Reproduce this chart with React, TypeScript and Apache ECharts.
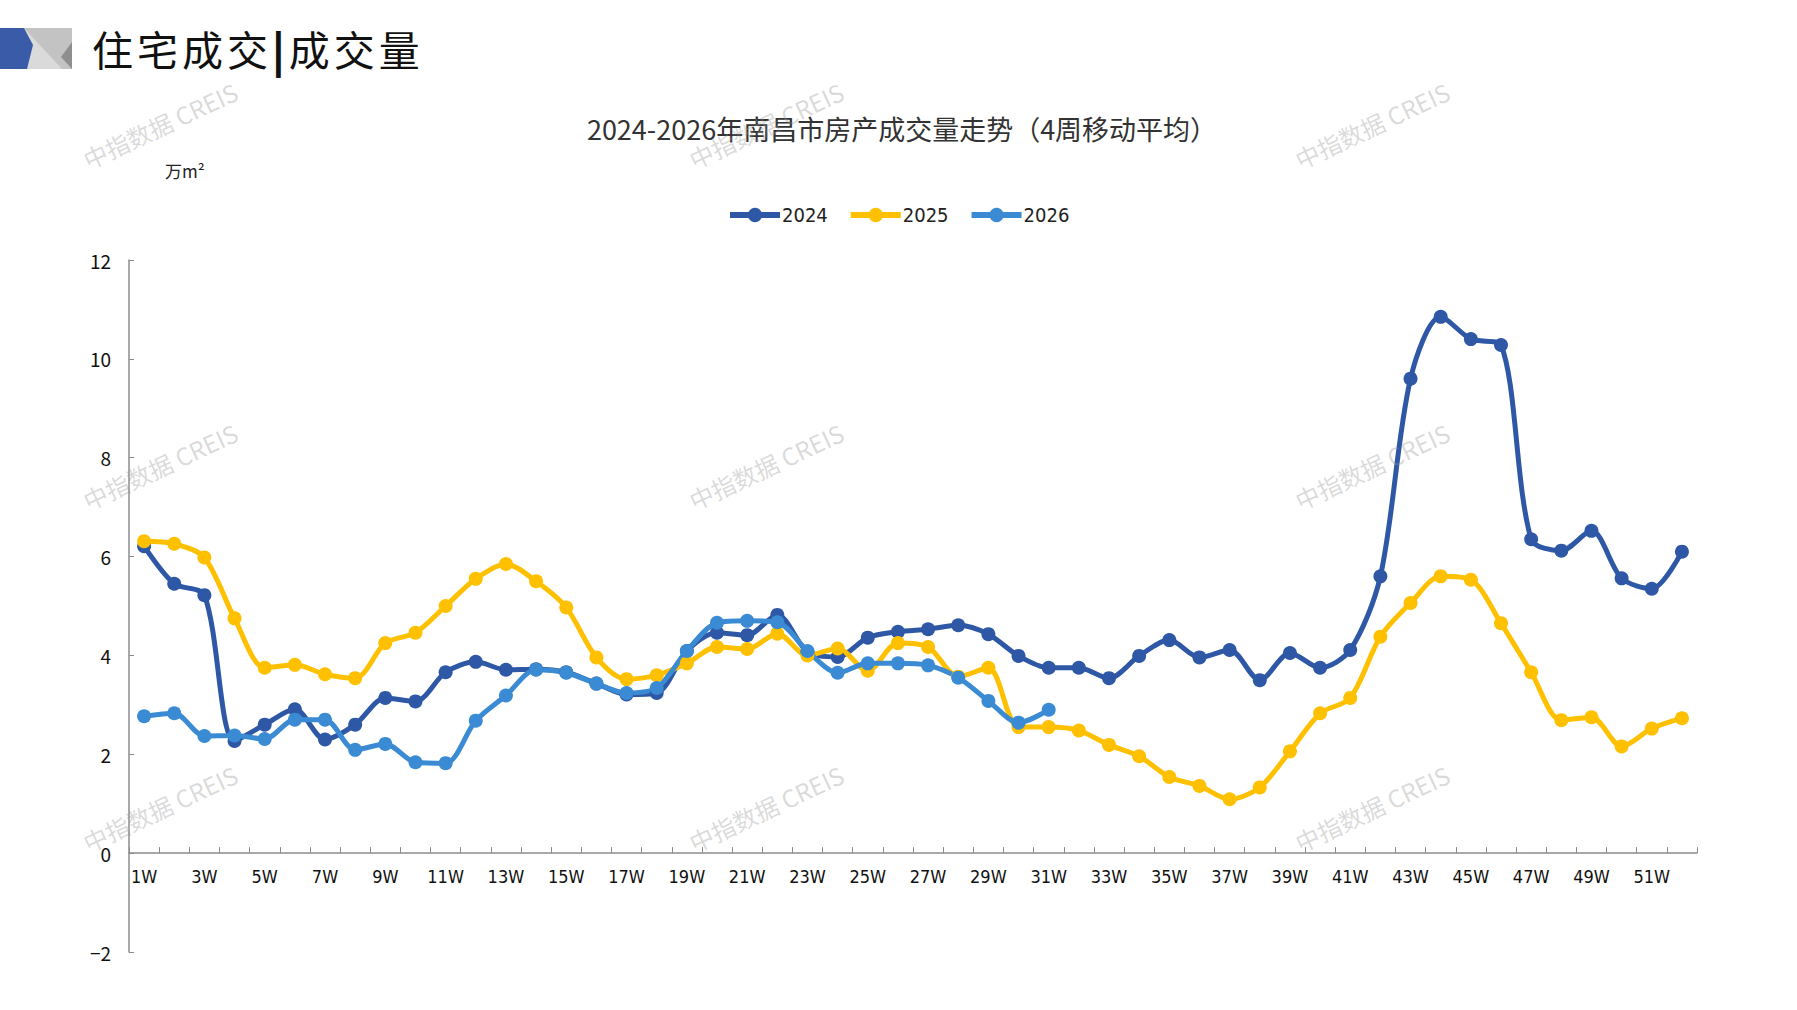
import React, { useEffect, useRef } from 'react';
import * as echarts from 'echarts';

const weeks: string[] = Array.from({ length: 52 }, (_, i) => `${i + 1}W`);

const y2024: number[] = [
  6.21, 5.45, 5.22, 2.27, 2.6, 2.91, 2.3, 2.6, 3.14, 3.07,
  3.66, 3.87, 3.71, 3.72, 3.66, 3.43, 3.21, 3.24, 4.09, 4.46,
  4.41, 4.82, 4.07, 3.97, 4.36, 4.48, 4.53, 4.61, 4.43, 3.99,
  3.75, 3.75, 3.54, 3.99, 4.31, 3.96, 4.11, 3.5, 4.05, 3.75,
  4.11, 5.6, 9.6, 10.85, 10.4, 10.28, 6.35, 6.12, 6.52, 5.56,
  5.35, 6.1,
];

const y2025: number[] = [
  6.31, 6.26, 5.98, 4.75, 3.75, 3.81, 3.62, 3.54, 4.25, 4.46,
  5.0, 5.55, 5.85, 5.5, 4.97, 3.96, 3.52, 3.6, 3.84, 4.17,
  4.13, 4.44, 4.0, 4.14, 3.69, 4.25, 4.17, 3.57, 3.75, 2.55,
  2.55, 2.48, 2.19, 1.96, 1.54, 1.36, 1.09, 1.33, 2.06, 2.83,
  3.14, 4.38, 5.06, 5.6, 5.53, 4.65, 3.66, 2.69, 2.75, 2.16,
  2.52, 2.73,
];

const y2026: number[] = [
  2.77, 2.83, 2.37, 2.38, 2.31, 2.7, 2.7, 2.09, 2.21, 1.84,
  1.82, 2.68, 3.19, 3.71, 3.65, 3.43, 3.24, 3.34, 4.09, 4.66,
  4.7, 4.67, 4.09, 3.65, 3.84, 3.84, 3.8, 3.55, 3.08, 2.64,
  2.9,
];

const yTicks = { min: -2, max: 12, interval: 2 };

const SANS = '"Noto Sans CJK SC", "Noto Sans", sans-serif';
const NARROW = '"Liberation Sans Narrow", "DejaVu Sans Condensed", "Noto Sans", sans-serif';

const WM_TEXT = '中指数据 CREIS';
const wmXs = [160, 766, 1372];
const wmYs = [125, 466, 808];

const GRID = { left: 129, right: 100, top: 260, bottom: 58 };

export default function App() {
  const elRef = useRef<HTMLDivElement | null>(null);

  useEffect(() => {
    if (!elRef.current) return;
    const chart = echarts.init(elRef.current, undefined, { renderer: 'svg' });

    // x axis sits on the zero line: lift it by the -2..0 span
    const plotH = 1010 - GRID.top - GRID.bottom;
    const zeroOffset = (plotH * (0 - yTicks.min)) / (yTicks.max - yTicks.min);

    const watermarks: any[] = [];
    for (const wy of wmYs) {
      for (const wx of wmXs) {
        watermarks.push({
          type: 'text',
          x: wx,
          y: wy,
          rotation: (25 * Math.PI) / 180,
          z: 100,
          silent: true,
          style: {
            text: WM_TEXT,
            align: 'center',
            verticalAlign: 'middle',
            fill: 'rgba(150,150,150,0.35)',
            font: `24px ${SANS}`,
          },
        });
      }
    }

    const mkSeries = (name: string, data: number[], color: string) => ({
      name,
      type: 'line',
      data,
      smooth: 0.3,
      symbol: 'circle',
      symbolSize: 14,
      lineStyle: { width: 5, color },
      itemStyle: { color },
      emphasis: { disabled: true },
    });

    const opt: echarts.EChartsOption = {
      animation: false,
      backgroundColor: '#fff',
      grid: GRID,
      legend: {
        left: 722,
        top: 200,
        itemWidth: 50,
        itemHeight: 18,
        itemGap: 20,
        lineStyle: { width: 6 },
        textStyle: { fontSize: 20, color: '#222', fontFamily: NARROW, padding: [0, 0, 0, -3] },
        data: ['2024', '2025', '2026'],
      },
      xAxis: {
        type: 'category',
        data: weeks,
        boundaryGap: true,
        offset: -zeroOffset,
        axisLine: { onZero: false, lineStyle: { color: '#8c8c8c', width: 1.5 } },
        axisTick: { show: true, inside: true, length: 6, interval: 0, lineStyle: { color: '#8c8c8c' } },
        axisLabel: { interval: 1, color: '#111', fontSize: 18, fontFamily: NARROW, margin: 14 },
        splitLine: { show: false },
      },
      yAxis: {
        type: 'value',
        min: yTicks.min,
        max: yTicks.max,
        interval: yTicks.interval,
        axisLine: { show: true, lineStyle: { color: '#8c8c8c', width: 1.5 } },
        axisTick: { show: true, inside: true, length: 5, lineStyle: { color: '#8c8c8c' } },
        axisLabel: {
          color: '#111',
          fontSize: 19,
          fontFamily: SANS,
          margin: 18,
          formatter: (v: number) => String(v).replace('-', '−'),
        },
        splitLine: { show: false },
      },
      series: [
        mkSeries('2024', y2024, '#2E58A6'),
        mkSeries('2025', y2025, '#FFC000'),
        mkSeries('2026', y2026, '#3A8BD3'),
      ] as any,
      graphic: [
        // logo
        { type: 'polygon', shape: { points: [[24, 28], [72, 28], [72, 69], [24, 69]] }, style: { fill: '#c3c3c3' } },
        { type: 'polygon', shape: { points: [[24, 28], [62, 69], [24, 69]] }, style: { fill: '#dadada' } },
        { type: 'polygon', shape: { points: [[72, 42], [72, 69], [61, 57]] }, style: { fill: '#8f8f8f' } },
        { type: 'polygon', shape: { points: [[0, 28], [24, 28], [33, 45], [27, 69], [0, 69]] }, style: { fill: '#3A5BA8' } },
        {
          type: 'text',
          x: 902,
          y: 128,
          style: {
            text: '2024-2026年南昌市房产成交量走势（4周移动平均）',
            align: 'center',
            verticalAlign: 'middle',
            fill: '#333',
            font: `27px ${SANS}`,
          },
        },
        {
          type: 'text',
          x: 165,
          y: 170,
          style: { text: '万m²', verticalAlign: 'middle', fill: '#222', font: `17px ${SANS}` },
        },
        ...watermarks,
      ],
    };

    chart.setOption(opt, true);
    return () => chart.dispose();
  }, []);

  return (
    <div style={{ position: 'fixed', left: 0, top: 0, width: 1797, height: 1010, background: '#fff' }}>
      <div ref={elRef} style={{ position: 'absolute', left: 0, top: 0, width: 1797, height: 1010 }} />
      <div
        style={{
          position: 'absolute',
          left: 92,
          top: 22,
          fontSize: 41,
          lineHeight: '52px',
          letterSpacing: 4,
          color: '#111',
          fontFamily: SANS,
          whiteSpace: 'nowrap',
        }}
      >
        住宅成交<span style={{ fontWeight: 900 }}>|</span>成交量
      </div>
    </div>
  );
}
